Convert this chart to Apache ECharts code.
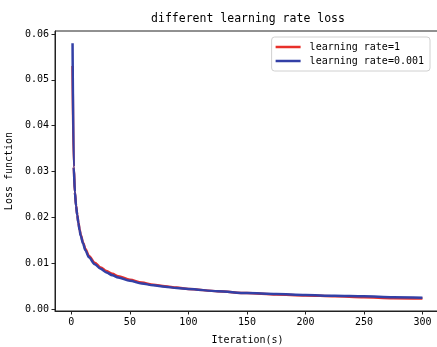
<!DOCTYPE html>
<html><head><meta charset="utf-8">
<script src="https://cdn.jsdelivr.net/npm/echarts@6/dist/echarts.min.js"></script>
<style>html,body{margin:0;padding:0;background:#fff}#c{width:437px;height:347px}</style>
</head><body><div id="c"></div>
<script>
const titleText = 'different learning rate loss';
const xName = 'Iteration(s)';
const yName = 'Loss function';
const xTicks = [0, 50, 100, 150, 200, 250, 300];
const yTicks = [0, 0.01, 0.02, 0.03, 0.04, 0.05, 0.06];
const iterations = [1,2,3,4,5,6,7,8,10,12,15,20,25,30,35,40,50,60,70,80,90,100,125,150,175,200,225,250,275,300];
const lossLr1 = [0.0530,0.0310,0.0255,0.0226,0.0206,0.0189,0.0174,0.0162,0.0145,0.0131,0.0116,0.0101,0.0091,0.0083,0.0077,0.0072,0.0064,0.0058,0.0053,0.0050,0.0047,0.0044,0.0039,0.0035,0.0032,0.0030,0.0028,0.0026,0.0024,0.0023];
const lossLr0001 = [0.0580,0.0310,0.0255,0.0225,0.0205,0.0188,0.0172,0.0160,0.0143,0.0128,0.0113,0.0098,0.0088,0.0080,0.0074,0.0069,0.0062,0.0056,0.0052,0.0049,0.0046,0.0044,0.0039,0.0035,0.0033,0.0031,0.0029,0.0028,0.0026,0.0025];
const seriesNames = ['learning rate=1', 'learning rate=0.001'];

const font = '"DejaVu Sans Mono", "Liberation Mono", monospace';
const chart = echarts.init(document.getElementById('c'), null, {renderer: 'canvas'});
const pair = (xs, ys) => xs.map((x, i) => [x, ys[i]]);
chart.setOption({
  animation: false,
  backgroundColor: '#fff',
  title: {text: titleText, left: 243, textAlign: 'center', top: 8,
    textStyle: {fontFamily: font, fontSize: 11.5, fontWeight: 'normal', color: '#000'}},
  grid: {left: 55, right: -3, top: 31, bottom: 36, containLabel: false, outerBoundsMode: 'none',
    show: true, borderColor: '#222', borderWidth: 1, backgroundColor: 'transparent'},
  legend: {
    data: seriesNames, orient: 'vertical', right: 7, top: 37,
    icon: 'rect', itemWidth: 25, itemHeight: 2.5, itemGap: 4,
    borderColor: '#d0d0d0', borderWidth: 1, borderRadius: 3, padding: [5, 6, 5, 4],
    textStyle: {fontFamily: font, fontSize: 10, color: '#000', padding: [0, 0, 0, 4]}
  },
  xAxis: {
    type: 'value', min: -14, max: 315,
    name: xName, nameLocation: 'middle', nameGap: 24,
    nameTextStyle: {fontFamily: font, fontSize: 10, color: '#000'},
    axisLine: {show: true, onZero: false, lineStyle: {color: '#222', width: 1}},
    axisTick: {show: true, length: 3.5, lineStyle: {color: '#222'}, customValues: xTicks},
    axisLabel: {fontFamily: font, fontSize: 10, color: '#000', margin: 6, customValues: xTicks},
    splitLine: {show: false}
  },
  yAxis: {
    type: 'value', min: -0.0004, max: 0.06065,
    name: yName, nameLocation: 'middle', nameGap: 37, nameRotate: 90,
    nameTextStyle: {fontFamily: font, fontSize: 10, color: '#000'},
    axisLine: {show: true, onZero: false, lineStyle: {color: '#222', width: 1}},
    axisTick: {show: true, length: 3.5, lineStyle: {color: '#222'}, customValues: yTicks},
    axisLabel: {fontFamily: font, fontSize: 10, color: '#000', margin: 6, customValues: yTicks,
      formatter: v => v.toFixed(2)},
    splitLine: {show: false}
  },
  series: [{
    name: seriesNames[0], type: 'line', data: pair(iterations, lossLr1),
    showSymbol: false, smooth: 0.3, smoothMonotone: 'x', color: '#e8302a',
    lineStyle: {width: 2.5, color: '#e8302a'}
  }, {
    name: seriesNames[1], type: 'line', data: pair(iterations, lossLr0001),
    showSymbol: false, smooth: 0.3, smoothMonotone: 'x', color: '#3340a6',
    lineStyle: {width: 2.5, color: '#3340a6'}
  }]
});
</script></body></html>
